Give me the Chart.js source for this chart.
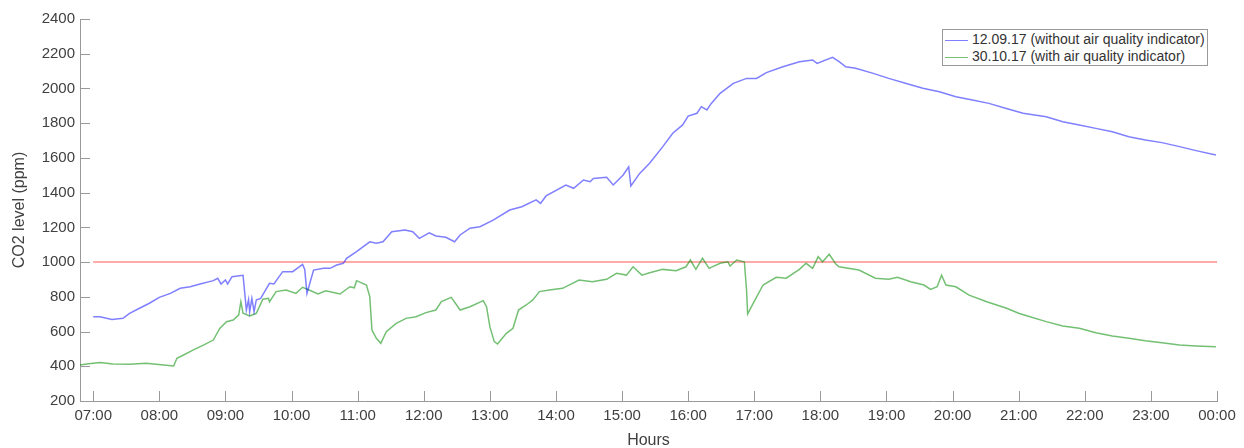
<!DOCTYPE html>
<html>
<head>
<meta charset="utf-8">
<script src="https://cdn.jsdelivr.net/npm/chart.js@4/dist/chart.umd.min.js"></script>
<style>
    body { margin: 0; background: #fff; }
    .wrap { position: relative; width: 1244px; height: 448px; }
    .legend {
        position: absolute; left: 942px; top: 29px; width: 266px; height: 37px;
        box-sizing: border-box; border: 1px solid #9a9a9a; background: #fff;
        font-family: 'Liberation Sans', Arial, sans-serif; font-size: 14px; color: #333;
        padding-top: 1px;
    }
    .legend .row { height: 17px; line-height: 17px; white-space: nowrap; }
    .legend .swatch { display: inline-block; width: 23px; margin-left: 2px; margin-right: 4px; vertical-align: middle; border-top: 1.5px solid; }
</style>
</head>
<body>
<div class="wrap">
    <canvas id="co2Chart" width="1244" height="448"></canvas>
    <div class="legend">
        <div class="row"><span class="swatch" style="border-color:rgba(0,0,255,0.5)"></span>12.09.17 (without air quality indicator)</div>
        <div class="row"><span class="swatch" style="border-color:rgba(0,140,0,0.55)"></span>30.10.17 (with air quality indicator)</div>
    </div>
</div>
<script>
// x tick labels (hours of day)
const tickLabels = ['07:00', '08:00', '09:00', '10:00', '11:00', '12:00', '13:00', '14:00', '15:00',
    '16:00', '17:00', '18:00', '19:00', '20:00', '21:00', '22:00', '23:00', '00:00'];

// 12.09.17 - without air quality indicator
const sepTimes = ['07:00', '07:06', '07:17', '07:27', '07:33', '07:42', '07:51', '08:00', '08:10', '08:19',
    '08:28', '08:37', '08:49', '08:53', '08:56', '09:00', '09:02', '09:06', '09:16', '09:19',
    '09:21', '09:22', '09:24', '09:26', '09:28', '09:32', '09:40', '09:44', '09:52', '10:01',
    '10:10', '10:12', '10:14', '10:17', '10:20', '10:29', '10:35', '10:41', '10:47', '10:50',
    '10:59', '11:11', '11:17', '11:23', '11:31', '11:43', '11:50', '11:56', '12:05', '12:11',
    '12:20', '12:28', '12:33', '12:42', '12:51', '13:03', '13:18', '13:29', '13:42', '13:46',
    '13:51', '14:09', '14:16', '14:25', '14:31', '14:34', '14:46', '14:52', '15:01', '15:06',
    '15:08', '15:16', '15:25', '15:37', '15:46', '15:55', '16:00', '16:08', '16:12', '16:17',
    '16:21', '16:29', '16:41', '16:53', '17:02', '17:11', '17:26', '17:41', '17:53', '17:57',
    '18:11', '18:17', '18:23', '18:32', '18:48', '19:02', '19:18', '19:33', '19:48', '20:03',
    '20:18', '20:33', '20:48', '21:04', '21:25', '21:40', '21:55', '22:10', '22:25', '22:40',
    '22:55', '23:10', '23:26', '23:41', '23:59'];
const sepValues = [685, 685, 670, 676, 705, 734, 763, 797, 820, 849,
    858, 874, 893, 907, 874, 897, 874, 916, 924, 724,
    784, 714, 791, 714, 782, 791, 878, 874, 945, 945,
    987, 958, 820, 887, 954, 964, 964, 983, 993, 1022,
    1060, 1117, 1108, 1117, 1175, 1185, 1175, 1137, 1169, 1150,
    1143, 1117, 1156, 1195, 1204, 1242, 1300, 1319, 1358, 1338,
    1381, 1444, 1425, 1473, 1463, 1482, 1488, 1444, 1502, 1549,
    1438, 1511, 1569, 1665, 1742, 1790, 1841, 1857, 1895, 1876,
    1914, 1972, 2029, 2058, 2058, 2091, 2125, 2154, 2164, 2144,
    2179, 2154, 2125, 2116, 2087, 2058, 2029, 2001, 1981, 1952,
    1933, 1914, 1886, 1857, 1837, 1808, 1790, 1770, 1751, 1722,
    1703, 1688, 1665, 1642, 1617];

// 30.10.17 - with air quality indicator
const octTimes = ['06:48', '06:54', '07:06', '07:18', '07:33', '07:48', '08:04', '08:13', '08:16', '08:22',
    '08:31', '08:40', '08:49', '08:55', '09:01', '09:07', '09:12', '09:14', '09:16', '09:22',
    '09:28', '09:34', '09:39', '09:40', '09:46', '09:55', '10:04', '10:10', '10:16', '10:24',
    '10:31', '10:44', '10:53', '10:57', '10:59', '11:08', '11:11', '11:13', '11:17', '11:21',
    '11:26', '11:35', '11:44', '11:53', '12:02', '12:11', '12:16', '12:25', '12:33', '12:42',
    '12:54', '12:57', '13:00', '13:04', '13:07', '13:15', '13:21', '13:26', '13:33', '13:39',
    '13:45', '13:54', '14:06', '14:21', '14:33', '14:46', '14:55', '15:04', '15:10', '15:18',
    '15:25', '15:37', '15:49', '15:58', '16:02', '16:07', '16:13', '16:19', '16:29', '16:36',
    '16:38', '16:44', '16:51', '16:53', '16:54', '16:59', '17:08', '17:20', '17:29', '17:41',
    '17:47', '17:53', '17:58', '18:02', '18:08', '18:14', '18:17', '18:35', '18:50', '19:02',
    '19:10', '19:22', '19:34', '19:40', '19:46', '19:50', '19:54', '20:03', '20:15', '20:31',
    '20:49', '21:00', '21:08', '21:25', '21:40', '21:55', '22:10', '22:25', '22:40', '22:55',
    '23:10', '23:26', '23:41', '23:59'];
const octValues = [407, 413, 421, 413, 411, 417, 407, 402, 446, 465,
    494, 522, 551, 619, 657, 666, 695, 772, 705, 690,
    705, 786, 791, 772, 830, 839, 820, 855, 839, 816,
    835, 816, 858, 852, 893, 868, 801, 609, 561, 532,
    599, 647, 676, 685, 709, 724, 772, 797, 724, 743,
    778, 743, 628, 542, 528, 590, 619, 724, 753, 782,
    830, 839, 849, 897, 887, 901, 935, 925, 973, 925,
    939, 958, 950, 973, 1012, 958, 1022, 964, 993, 1002,
    977, 1012, 1002, 839, 701, 762, 868, 912, 907, 958,
    993, 964, 1031, 1002, 1045, 989, 973, 954, 907, 901,
    912, 887, 868, 843, 858, 925, 868, 858, 810, 772,
    734, 705, 690, 657, 632, 619, 593, 574, 561, 547,
    536, 522, 517, 513];

// recommended limit
const limitTimes = ['07:00', '00:00'];
const limitValues = [1000, 1000];

function toMinutes(t, isEnd) {
    const [h, m] = t.split(':').map(Number);
    const mins = h * 60 + m;
    return (isEnd && mins === 0) ? 1440 : mins;
}

const tickMinutes = tickLabels.map((t, i) => toMinutes(t, i === tickLabels.length - 1));
const toPoints = (times, values) => times.map((t, i) => ({ x: toMinutes(t, i === times.length - 1), y: values[i] }));

const axisColor = '#9a9a9a';

// MATLAB style ticks pointing into the plot
const innerTicks = {
    id: 'innerTicks',
    afterDraw(chart) {
        const { ctx, chartArea, scales } = chart;
        ctx.save();
        ctx.strokeStyle = axisColor;
        ctx.lineWidth = 1;
        ctx.beginPath();
        scales.y.ticks.forEach(t => {
            const py = Math.round(scales.y.getPixelForValue(t.value)) + 0.5;
            ctx.moveTo(chartArea.left, py);
            ctx.lineTo(chartArea.left + 10, py);
        });
        scales.x.ticks.forEach(t => {
            const px = Math.round(scales.x.getPixelForValue(t.value)) + 0.5;
            ctx.moveTo(px, chartArea.bottom);
            ctx.lineTo(px, chartArea.bottom - 10);
        });
        ctx.stroke();
        ctx.restore();
    }
};

Chart.defaults.font.family = "'Liberation Sans', Arial, sans-serif";
Chart.defaults.color = '#404040';

new Chart(document.getElementById('co2Chart'), {
    type: 'line',
    data: {
        datasets: [
            {
                label: '12.09.17 (without air quality indicator)',
                data: toPoints(sepTimes, sepValues),
                borderColor: 'rgba(0,0,255,0.5)',
                borderWidth: 1.5,
            },
            {
                label: '30.10.17 (with air quality indicator)',
                data: toPoints(octTimes, octValues),
                borderColor: 'rgba(0,140,0,0.55)',
                borderWidth: 1.5,
            },
            {
                label: 'limit',
                data: toPoints(limitTimes, limitValues),
                borderColor: 'rgba(255,0,0,0.45)',
                borderWidth: 1.5,
            }
        ]
    },
    options: {
        responsive: false,
        animation: false,
        elements: { point: { radius: 0 }, line: { tension: 0 } },
        layout: { padding: { top: 19, right: 27, left: 0, bottom: 0 } },
        plugins: { legend: { display: false }, tooltip: { enabled: false } },
        scales: {
            x: {
                type: 'linear',
                min: 408,
                max: 1440,
                afterBuildTicks: ax => { ax.ticks = tickMinutes.map(v => ({ value: v })); },
                afterFit: s => { s.height = 47; },
                ticks: {
                    autoSkip: false, maxRotation: 0, padding: 6,
                    font: { size: 15 },
                    callback: (v, i) => tickLabels[i]
                },
                grid: { display: false, drawTicks: false },
                border: { display: true, color: axisColor },
                title: { display: true, text: 'Hours', font: { size: 16 }, padding: { top: 0, bottom: -2 } }
            },
            y: {
                min: 200,
                max: 2400,
                afterFit: s => { s.width = 80; },
                ticks: { stepSize: 200, padding: 5, font: { size: 15 }, callback: v => String(v) },
                grid: { display: false, drawTicks: false },
                border: { display: true, color: axisColor },
                title: { display: true, text: 'CO2 level (ppm)', font: { size: 16 }, padding: { top: 10, bottom: 0 } }
            }
        }
    },
    plugins: [innerTicks]
});
</script>
</body>
</html>
